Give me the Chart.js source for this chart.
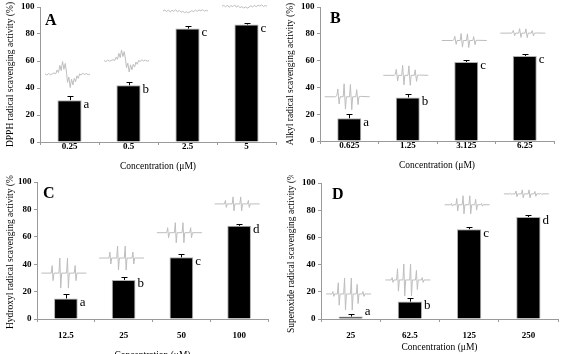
<!DOCTYPE html>
<html>
<head>
<meta charset="utf-8">
<script src="https://cdn.jsdelivr.net/npm/chart.js@4.4.0/dist/chart.umd.min.js"></script>
<style>
  body { margin: 0; background: #fff; }
  #wrap { position: relative; width: 561px; height: 354px; overflow: hidden; }
  .panel { position: absolute; }
</style>
</head>
<body>
<div id="wrap">
  <div class="panel" style="left:0;top:0;width:280px;height:175px"><canvas id="chartA"></canvas></div>
  <div class="panel" style="left:280px;top:0;width:281px;height:175px"><canvas id="chartB"></canvas></div>
  <div class="panel" style="left:0;top:175px;width:280px;height:179px"><canvas id="chartC"></canvas></div>
  <div class="panel" style="left:280px;top:175px;width:281px;height:179px"><canvas id="chartD"></canvas></div>
</div>
<script>
// data
const dpphLabels = ['0.25', '0.5', '2.5', '5'];
const dpphValues = [31, 42, 84, 87];
const dpphErrors = [3, 2.5, 1.8, 1.5];
const dpphLetters = ['a', 'b', 'c', 'c'];

const alkylLabels = ['0.625', '1.25', '3.125', '6.25'];
const alkylValues = [17, 32.5, 59, 63.5];
const alkylErrors = [3, 2.5, 1.5, 1.5];
const alkylLetters = ['a', 'b', 'c', 'c'];

const hydroxylLabels = ['12.5', '25', '50', '100'];
const hydroxylValues = [15, 28.5, 45, 68];
const hydroxylErrors = [3.5, 2.5, 2.5, 1.5];
const hydroxylLetters = ['a', 'b', 'c', 'd'];

const superoxideLabels = ['25', '62.5', '125', '250'];
const superoxideValues = [1.8, 12.8, 66, 75];
const superoxideErrors = [2, 2.5, 2, 1.5];
const superoxideLetters = ['a', 'b', 'c', 'd'];

// ESR spectrum insets (baseline level in % units)
const dpphSpecLevels = [50, 60, 97, 100.5];
const alkylSpecLevels = [33, 49, 75, 80.5];
const hydroxylSpecLevels = [33.5, 44.5, 63, 84];
const superoxideSpecLevels = [18.4, 28.7, 84, 92];

// spectrum outlines, x 0..1, y -1..1
const dpphShape = [[0,0.05],[0.04,-0.05],[0.08,0.08],[0.12,-0.02],[0.16,0.05],[0.2,0.12],[0.24,0.05],[0.27,0.35],[0.3,0.15],[0.33,0.7],[0.36,0.3],[0.39,1],[0.42,0.4],[0.45,0.85],[0.48,0.1],[0.5,-0.6],[0.53,-0.2],[0.56,-1],[0.59,-0.35],[0.62,-0.8],[0.65,-0.3],[0.68,-0.55],[0.71,-0.1],[0.74,-0.3],[0.77,0.05],[0.8,-0.05],[0.84,0.1],[0.88,0],[0.92,0.08],[0.96,-0.02],[1,0.05]];
const noiseShape = [[0,0],[0.04,0.5],[0.08,-0.3],[0.12,0.6],[0.16,-0.5],[0.2,0.4],[0.24,-0.2],[0.28,0.7],[0.32,-0.4],[0.36,0.3],[0.4,-0.6],[0.44,-0.2],[0.48,-0.8],[0.52,-0.3],[0.56,-0.9],[0.6,-0.4],[0.64,0.2],[0.68,-0.3],[0.72,0.5],[0.76,-0.2],[0.8,0.6],[0.84,0.1],[0.88,0.7],[0.92,-0.1],[0.96,0.4],[1,0]];
const alkylShape = [[0,0],[0.24,0],[0.27,0.1],[0.29,0.6],[0.32,-0.55],[0.34,0],[0.41,0],[0.43,1],[0.46,-0.95],[0.48,0],[0.55,0],[0.57,0.95],[0.6,-1],[0.62,0],[0.69,0],[0.71,0.55],[0.74,-0.6],[0.76,0],[0.8,0.03],[1,0]];
const hydroxylShape = [[0,0],[0.22,0],[0.24,0.5],[0.26,-0.5],[0.28,0],[0.39,0],[0.41,1],[0.43,-1],[0.45,0],[0.56,0],[0.58,1],[0.6,-1],[0.62,0],[0.73,0],[0.75,0.5],[0.77,-0.5],[0.79,0],[1,0]];
const superoxideShape = [[0,0],[0.13,0],[0.15,0.15],[0.17,-0.15],[0.19,0],[0.25,0],[0.27,0.7],[0.29,-0.7],[0.31,0],[0.39,0],[0.41,1],[0.43,-1],[0.45,0],[0.54,0],[0.56,1],[0.58,-1],[0.6,0],[0.67,0],[0.69,0.6],[0.71,-0.6],[0.73,0],[0.8,0],[0.82,0.15],[0.84,-0.15],[0.86,0],[1,0]];

const SERIF = "'Liberation Serif', 'Times New Roman', serif";

const extrasPlugin = {
    id: 'extras',
    afterDatasetsDraw(chart, args, opts) {
        const ctx = chart.ctx;
        const x = chart.scales.x, y = chart.scales.y;
        const area = chart.chartArea;
        const meta = chart.getDatasetMeta(0);
        ctx.save();
        // spectra
        ctx.strokeStyle = '#bdbdbd';
        ctx.lineWidth = 1;
        opts.specLevels.forEach((lvl, i) => {
            const cx = x.getPixelForValue(i) - 2;
            const cy = y.getPixelForValue(lvl);
            const w = 45;
            ctx.beginPath();
            opts.shapes[i].forEach((p, k) => {
                const px = cx - w / 2 + p[0] * w;
                const py = cy - p[1] * opts.specAmps[i];
                if (k === 0) ctx.moveTo(px, py); else ctx.lineTo(px, py);
            });
            ctx.stroke();
        });
        // error bars
        ctx.strokeStyle = '#000';
        meta.data.forEach((bar, i) => {
            const v = opts.values[i];
            const top = Math.round(y.getPixelForValue(v + opts.errors[i])) + 0.5;
            const base = y.getPixelForValue(v);
            const bx = Math.round(bar.x) + 0.5;
            ctx.beginPath();
            ctx.moveTo(bx, base);
            ctx.lineTo(bx, top);
            ctx.moveTo(bx - 3, top);
            ctx.lineTo(bx + 3, top);
            ctx.stroke();
        });
        // significance letters
        ctx.fillStyle = '#000';
        ctx.font = '13px ' + SERIF;
        ctx.textAlign = 'left';
        ctx.textBaseline = 'middle';
        meta.data.forEach((bar, i) => {
            const ly = Math.min(y.getPixelForValue(opts.values[i]) + 4, area.bottom - 7);
            ctx.fillText(opts.letters[i], bar.x + bar.width / 2 + 2, ly);
        });
        // panel letter
        ctx.font = 'bold 16px ' + SERIF;
        ctx.textBaseline = 'alphabetic';
        ctx.fillText(opts.panel, opts.panelX, opts.panelY);
        ctx.restore();
    }
};

function makePanel(id, labels, values, cfg) {
    const ctx = document.getElementById(id).getContext('2d');
    return new Chart(ctx, {
        type: 'bar',
        data: {
            labels: labels,
            datasets: [{
                data: values,
                backgroundColor: '#000',
                borderColor: '#b0b0b0',
                borderWidth: 1,
                categoryPercentage: 0.41,
                barPercentage: 1
            }]
        },
        options: {
            responsive: true,
            maintainAspectRatio: false,
            animation: false,
            layout: { padding: { left: 0, top: cfg.top, right: cfg.right, bottom: 0 } },
            plugins: {
                legend: { display: false },
                tooltip: { enabled: false },
                extras: cfg.extras
            },
            scales: {
                x: {
                    afterFit: (s) => { s.height = cfg.xHeight; },
                    grid: { drawOnChartArea: false, tickLength: 3, color: '#9a9a9a' },
                    border: { color: '#9a9a9a' },
                    ticks: { color: '#000', padding: cfg.xTickPad, font: { family: SERIF, size: 9, weight: 'bold' } },
                    title: {
                        display: true,
                        text: 'Concentration (μM)',
                        color: '#000',
                        padding: { top: 0, bottom: cfg.xTitlePad },
                        font: { family: SERIF, size: 9.5 }
                    }
                },
                y: {
                    min: 0,
                    max: 100,
                    afterFit: (s) => { s.width = cfg.yWidth; },
                    grid: { drawOnChartArea: false, tickLength: 3, color: '#9a9a9a' },
                    border: { color: '#9a9a9a' },
                    ticks: { stepSize: 20, color: '#000', padding: cfg.yTickPad, font: { family: SERIF, size: 9, weight: 'bold', lineHeight: 1 } },
                    title: {
                        display: true,
                        text: cfg.yTitle,
                        color: '#000',
                        padding: { top: cfg.yTitlePad, bottom: 0 },
                        font: { family: SERIF, size: 9.5 }
                    }
                }
            }
        },
        plugins: [extrasPlugin]
    });
}

makePanel('chartA', dpphLabels, dpphValues, {
    top: 7, right: 4, xHeight: 33, yWidth: 40, xTickPad: -4, xTitlePad: 3, yTickPad: 2.5, yTitlePad: 5,
    yTitle: 'DPPH radical scavenging activity (%)',
    extras: {
        values: dpphValues, errors: dpphErrors, letters: dpphLetters,
        specLevels: dpphSpecLevels, specAmps: [13, 11, 2, 2],
        shapes: [dpphShape, dpphShape, noiseShape, noiseShape],
        panel: 'A', panelX: 45, panelY: 25
    }
});

makePanel('chartB', alkylLabels, alkylValues, {
    top: 7, right: 7, xHeight: 34, yWidth: 40, xTickPad: -4, xTitlePad: 4, yTickPad: 2.5, yTitlePad: 5,
    yTitle: 'Alkyl radical scavenging activity (%)',
    extras: {
        values: alkylValues, errors: alkylErrors, letters: alkylLetters,
        specLevels: alkylSpecLevels, specAmps: [13, 10, 7, 4.5],
        shapes: [alkylShape, alkylShape, alkylShape, alkylShape],
        panel: 'B', panelX: 50, panelY: 23
    }
});

makePanel('chartC', hydroxylLabels, hydroxylValues, {
    top: 7, right: 12, xHeight: 35, yWidth: 37, xTickPad: 8, xTitlePad: -7, yTickPad: 2.5, yTitlePad: 5,
    yTitle: 'Hydroxyl radical scavenging activity (%)',
    extras: {
        values: hydroxylValues, errors: hydroxylErrors, letters: hydroxylLetters,
        specLevels: hydroxylSpecLevels, specAmps: [15, 12, 10, 7],
        shapes: [hydroxylShape, hydroxylShape, hydroxylShape, hydroxylShape],
        panel: 'C', panelX: 43, panelY: 23
    }
});

makePanel('chartD', superoxideLabels, superoxideValues, {
    top: 8, right: 3, xHeight: 35, yWidth: 41, xTickPad: 8, xTitlePad: 1, yTickPad: 2.5, yTitlePad: 6,
    yTitle: 'Superoxide radical scavenging activity (%)',
    extras: {
        values: superoxideValues, errors: superoxideErrors, letters: superoxideLetters,
        specLevels: superoxideSpecLevels, specAmps: [16, 16, 9, 4],
        shapes: [superoxideShape, superoxideShape, superoxideShape, superoxideShape],
        panel: 'D', panelX: 52, panelY: 24
    }
});
</script>
</body>
</html>
